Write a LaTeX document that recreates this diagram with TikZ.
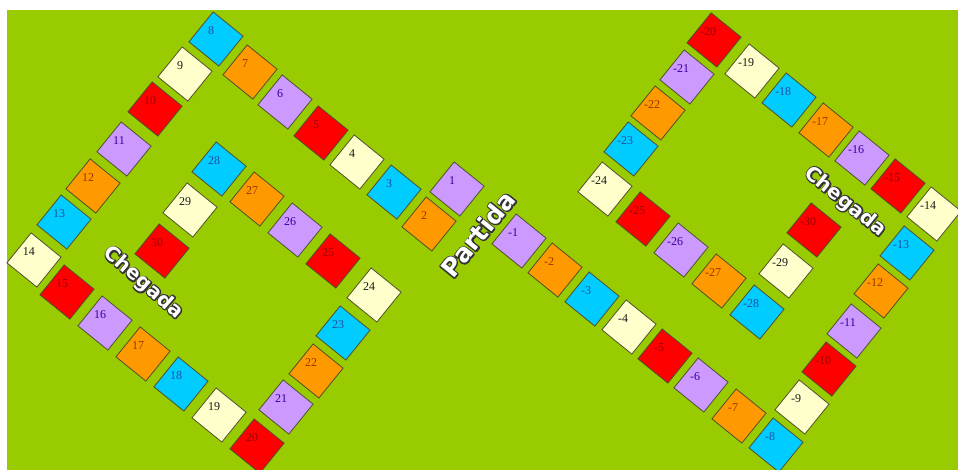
\documentclass[tikz,border=0pt]{standalone}
\usepackage{fontspec}
\setmainfont{Liberation Serif}
\newfontfamily\artfont{DejaVu Sans}
\definecolor{field}{HTML}{99CC00}
\definecolor{edge}{HTML}{4F4F2F}
\definecolor{tile1}{HTML}{CC99FF}
\definecolor{tile2}{HTML}{FF9900}
\definecolor{tile3}{HTML}{00CCFF}
\definecolor{tile4}{HTML}{FFFFCC}
\definecolor{tile0}{HTML}{FF0000}
\definecolor{num1}{HTML}{330099}
\definecolor{num2}{HTML}{993300}
\definecolor{num3}{HTML}{1F4E9F}
\definecolor{num4}{HTML}{1A1A1A}
\definecolor{num0}{HTML}{990000}
% white letters with a dark rim: stroked copy below, plain white on top
\newcommand{\rimtext}[1]{\rlap{\special{pdf:literal direct 0.2 0.2 0.2 RG 2.6 w 1 j 2 Tr}#1\special{pdf:literal direct 0 Tr}}#1}

\begin{document}
\begin{tikzpicture}[x=1pt,y=-1pt,
 font=\fontsize{12}{14}\selectfont,
 tile/.style={draw=edge,line width=.8pt,minimum size=38.5pt,inner sep=0pt,rotate=-39},
 num/.style={inner sep=0pt},
 word/.style={font=\artfont\bfseries\fontsize{20}{24}\selectfont,text=white,inner sep=0pt}]
\path[use as bounding box] (0,0) rectangle (958,470);
\clip (0,0) rectangle (958,470);
\fill[field] (7,10) rectangle (958,470);
% left board
\foreach \n/\x/\y in {1/457/189,2/429/224,3/394/192,4/357/162,5/321/133,
 6/285/102,7/250/72,8/216/39,9/185/74,10/155/109,11/124/149,12/93/186,
 13/64/222,14/34/260,15/67/292,16/105/323,17/143/354,18/181/384,19/219/415,
 20/257/446,21/286/407,22/316/371,23/343/333,24/374/295,25/333/261,
 26/295/230,27/257/199,28/219/169,29/190/210,30/162/251}{
 \pgfmathtruncatemacro{\k}{mod(\n,5)}
 \node[tile,fill=tile\k] (p\n) at (\x,\y) {};
 \node[num,text=num\k] (pt\n) at (\x-5,\y-8) {\n};
}
% right board
\foreach \n/\x/\y in {1/519/241,2/555/270,3/592/299,4/629/327,5/665/356,
 6/701/385,7/739/416,8/776/445,9/802/407,10/829/369,11/854/331,12/881/291,
 13/907/253,14/934/214,15/898/186,16/862/158,17/826/130,18/789/100,19/752/71,
 20/714/40,21/687/77,22/658/113,23/631/149,24/605/189,25/643/219,
 26/681/250,27/719/281,28/757/312,29/786/271,30/814/230}{
 \pgfmathtruncatemacro{\k}{mod(\n,5)}
 \node[tile,fill=tile\k] (m\n) at (\x,\y) {};
 \node[num,text=num\k] (mt\n) at (\x-6,\y-8) {-\n};
}
\node[word,font=\artfont\bfseries\fontsize{25}{30}\selectfont,rotate=51] (start) at (478,234) {\rimtext{Partida}};
\node[word,rotate=-41] (goalA) at (143,283) {\rimtext{Chegada}};
\node[word,rotate=-39] (goalB) at (845,202) {\rimtext{Chegada}};
\end{tikzpicture}
\end{document}
